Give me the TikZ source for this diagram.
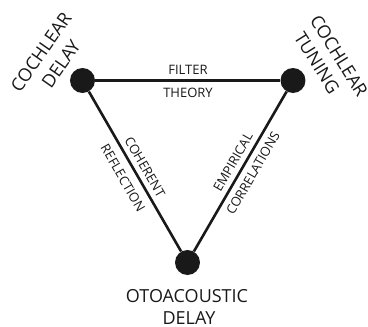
\documentclass[tikz,border=0pt]{standalone}
\usepackage{fontspec}
\setmainfont{Open Sans}
\begin{document}
\begin{tikzpicture}[x=1pt,y=-1pt,
  dot/.style={circle,fill=black!90,inner sep=0pt,minimum size=25pt},
  edge/.style={line width=2.6pt,draw=black!90},
  elabel/.style={font=\fontsize{13}{13}\selectfont,text=black!90,inner sep=0pt},
  clabel/.style={font=\fontsize{18}{18}\selectfont,text=black!90,inner sep=0pt}]
\useasboundingbox (0,0) rectangle (368,327);
\node[dot] (cd) at (82.5,80.5) {};
\node[dot] (ct) at (293,80.5) {};
\node[dot] (od) at (187.5,262.5) {};
\draw[edge] (cd) -- (ct);
\draw[edge] (cd) -- (od);
\draw[edge] (ct) -- (od);
\node[elabel] (f1) at (188,70) {FILTER};
\node[elabel] (f2) at (188,92.5) {THEORY};
\node[elabel,rotate=-60] (l1) at (145,167) {COHERENT};
\node[elabel,rotate=-60] (l2) at (123,178) {REFLECTION};
\node[elabel,rotate=60] (r1) at (233,162) {EMPIRICAL};
\node[elabel,rotate=60] (r2) at (253,173) {CORRELATIONS};
\node[clabel,rotate=55] (a1) at (41,52) {COCHLEAR};
\node[clabel,rotate=55] (a2) at (61,64) {DELAY};
\node[clabel,rotate=-58] (b1) at (339,56) {COCHLEAR};
\node[clabel,rotate=-58] (b2) at (317,63) {TUNING};
\node[clabel] (o1) at (187,296.5) {OTOACOUSTIC};
\node[clabel] (o2) at (189,318.5) {DELAY};
\end{tikzpicture}
\end{document}
